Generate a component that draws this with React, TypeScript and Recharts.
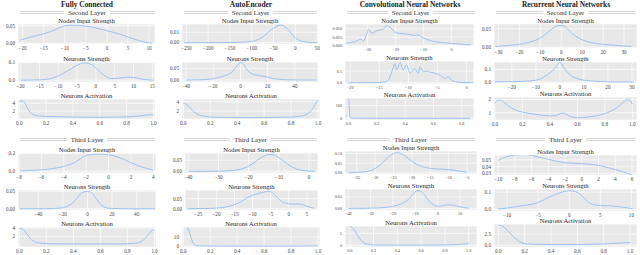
import React from 'react'
import { LineChart, Line, XAxis, YAxis, CartesianGrid } from 'recharts'

type Pt = [number, number]

// ---- Fully Connected
const fc2Nodes: Pt[] = [[-20.6, 0.009], [-18, 0.018], [-15, 0.027], [-13, 0.035], [-11, 0.046], [-9, 0.051], [-7, 0.051], [-5, 0.049], [-3, 0.045], [-1, 0.039], [1, 0.033], [3, 0.026], [5, 0.018], [7, 0.01], [9, 0.003], [10.8, 0.0005]]
const fc2Neurons: Pt[] = [[-20, 0], [-15, 0.002], [-12, 0.009], [-10, 0.024], [-7.5, 0.052], [-5.3, 0.08], [-3, 0.097], [-1.2, 0.088], [0.6, 0.057], [2.4, 0.024], [4.2, 0.009], [6, 0.011], [8.3, 0.017], [10.2, 0.015], [12.5, 0.005], [15.3, 0]]
const fc2Act: Pt[] = [[0, 4.4], [0.02, 4.6], [0.04, 4.1], [0.06, 2.8], [0.08, 1.7], [0.1, 1.1], [0.14, 0.75], [0.2, 0.6], [0.3, 0.5], [0.4, 0.42], [0.5, 0.38], [0.6, 0.37], [0.7, 0.4], [0.8, 0.48], [0.88, 0.65], [0.94, 0.9], [0.97, 1.05], [1.0, 0.95]]
const fc3Nodes: Pt[] = [[-7.9, 0.003], [-7, 0.008], [-6, 0.016], [-5, 0.03], [-4, 0.055], [-3, 0.1], [-2.3, 0.16], [-1.5, 0.188], [-0.8, 0.192], [0, 0.185], [0.8, 0.16], [1.5, 0.125], [2, 0.095], [2.7, 0.06], [3.3, 0.035], [4, 0.012]]
const fc3Neurons: Pt[] = [[-55, 0], [-40, 0], [-30, 0.0005], [-22, 0.002], [-17, 0.006], [-12, 0.017], [-8, 0.032], [-5, 0.045], [-2, 0.049], [1, 0.049], [4, 0.044], [7, 0.03], [10, 0.015], [13, 0.006], [18, 0.001], [30, 0], [55, 0]]
const fc3Act: Pt[] = [[0, 3.9], [0.02, 3.8], [0.05, 2.8], [0.08, 1.5], [0.12, 0.6], [0.17, 0.3], [0.25, 0.2], [0.4, 0.15], [0.6, 0.15], [0.75, 0.18], [0.85, 0.3], [0.9, 0.7], [0.94, 1.8], [0.97, 3.0], [0.99, 3.5], [1.0, 3.4]]

// ---- AutoEncoder
const ae2Nodes: Pt[] = [[-255, 0], [-200, 0], [-150, 0.0001], [-120, 0.0005], [-100, 0.0012], [-85, 0.003], [-70, 0.007], [-55, 0.0125], [-42, 0.016], [-33, 0.017], [-25, 0.0155], [-15, 0.012], [-5, 0.0065], [5, 0.0032], [15, 0.0013], [30, 0.0004], [50, 0]]
const ae2Neurons: Pt[] = [[-40, 0], [-30, 0.001], [-22, 0.004], [-15, 0.012], [-10, 0.022], [-6, 0.035], [-3, 0.058], [-1, 0.071], [0.5, 0.074], [2.5, 0.066], [5, 0.042], [7.5, 0.029], [11, 0.022], [16, 0.017], [20, 0.012], [25, 0.005], [32, 0.0015], [45, 0], [56, 0]]
const ae2Act: Pt[] = [[0, 3.7], [0.02, 3.5], [0.05, 2.7], [0.08, 1.8], [0.11, 1.2], [0.15, 0.9], [0.22, 0.7], [0.35, 0.6], [0.5, 0.57], [0.65, 0.6], [0.78, 0.68], [0.86, 0.85], [0.91, 1.2], [0.94, 1.8], [0.97, 2.9], [0.99, 3.9], [1.0, 4.3]]
const ae3Nodes: Pt[] = [[-40, 0], [-32, 0.0002], [-28, 0.001], [-25, 0.004], [-22.5, 0.01], [-20.5, 0.02], [-18.5, 0.036], [-16.5, 0.056], [-14.5, 0.071], [-13, 0.077], [-11.5, 0.073], [-10, 0.062], [-8.5, 0.048], [-7, 0.032], [-5.5, 0.019], [-4, 0.01], [-2, 0.004], [0, 0.001], [2, 0]]
const ae3Neurons: Pt[] = [[-28, 0], [-24, 0.001], [-20, 0.003], [-17, 0.01], [-15, 0.02], [-13, 0.038], [-11, 0.06], [-9, 0.073], [-7, 0.082], [-5.6, 0.087], [-4.5, 0.08], [-3.3, 0.058], [-2, 0.036], [-0.5, 0.026], [1, 0.023], [2.7, 0.024], [4, 0.019], [5.5, 0.009], [7, 0.002]]
const ae3Act: Pt[] = [[0, 24], [0.02, 23], [0.035, 19], [0.05, 13], [0.065, 6], [0.08, 2], [0.1, 0.6], [0.15, 0.25], [0.3, 0.15], [0.5, 0.12], [0.7, 0.12], [0.85, 0.15], [0.95, 0.3], [1.0, 0.5]]

// ---- Convolutional Neural Networks
const cnn2Nodes: Pt[] = [[-37.5, 0.007], [-35.5, 0.009], [-33.5, 0.015], [-32.5, 0.019], [-31.5, 0.013], [-30.5, 0.03], [-29.7, 0.049], [-28.6, 0.037], [-27, 0.044], [-25.5, 0.047], [-24.2, 0.05], [-23.2, 0.06], [-22, 0.056], [-20.5, 0.042], [-19.2, 0.037], [-17.3, 0.036], [-15, 0.033], [-13.6, 0.03], [-12, 0.032], [-10.5, 0.024], [-8.5, 0.017], [-6.5, 0.012], [-4, 0.009], [-1.5, 0.007], [1.5, 0.005], [4, 0.003], [7, 0.001]]
const cnn2Neurons: Pt[] = [[-20.3, 0], [-17, 0.0005], [-15, 0.002], [-14, 0.006], [-13.5, 0.02], [-13, 0.07], [-12.6, 0.13], [-12.3, 0.165], [-12, 0.11], [-11.4, 0.175], [-10.9, 0.11], [-10.3, 0.15], [-9.7, 0.08], [-9.3, 0.1], [-8.9, 0.123], [-8.3, 0.08], [-8, 0.137], [-7.4, 0.094], [-6.8, 0.1], [-6.3, 0.09], [-5.7, 0.085], [-5.1, 0.075], [-4.6, 0.066], [-4.2, 0.05], [-3.7, 0.037], [-3.1, 0.051], [-2.6, 0.023], [-2, 0.01], [-1, 0.003], [0.5, 0.001], [1.2, 0]]
const cnn2Act: Pt[] = [[0, 155], [0.004, 120], [0.008, 40], [0.012, 10], [0.02, 3], [0.05, 1], [0.2, 0.5], [0.5, 0.3], [0.8, 0.3], [0.86, 0.2]]
const cnn3Nodes: Pt[] = [[-37.3, 0.001], [-35, 0.002], [-33, 0.005], [-31, 0.013], [-29.5, 0.028], [-28, 0.052], [-26.5, 0.08], [-25, 0.1], [-23.8, 0.104], [-22.5, 0.095], [-21, 0.075], [-19.5, 0.053], [-18, 0.038], [-16.5, 0.029], [-15, 0.023], [-13, 0.02], [-11, 0.018], [-9, 0.015], [-7, 0.009], [-5, 0.003]]
const cnn3Neurons: Pt[] = [[-40, 0], [-33, 0.0005], [-27, 0.002], [-22, 0.006], [-18, 0.014], [-15, 0.026], [-12.5, 0.045], [-10.5, 0.068], [-9, 0.078], [-7.5, 0.075], [-6, 0.06], [-4.5, 0.04], [-3, 0.024], [-1.5, 0.014], [0.5, 0.009], [2.5, 0.012], [4.5, 0.016], [6.5, 0.015], [9, 0.009], [11.5, 0.004], [14, 0.001]]
const cnn3Act: Pt[] = [[0, 7.9], [0.02, 7.4], [0.04, 6.2], [0.06, 4.6], [0.08, 3.1], [0.1, 1.8], [0.12, 0.9], [0.15, 0.4], [0.2, 0.15], [0.4, 0.1], [0.6, 0.1], [0.8, 0.15], [0.9, 0.3], [0.95, 0.5], [1.0, 0.7]]

// ---- Recurrent Neural Networks
const rnn2Nodes: Pt[] = [[-31.5, 0.002], [-25, 0.005], [-20, 0.008], [-15, 0.014], [-11, 0.022], [-8, 0.033], [-5.5, 0.045], [-3, 0.055], [-1, 0.059], [1, 0.058], [3, 0.05], [5, 0.038], [7.5, 0.028], [10, 0.02], [14, 0.013], [20, 0.008], [26, 0.005], [33.5, 0.002]]
const rnn2Neurons: Pt[] = [[-27, 0.001], [-20, 0.003], [-14, 0.006], [-10, 0.014], [-7, 0.035], [-5, 0.06], [-3, 0.09], [-1.5, 0.125], [-0.5, 0.15], [0, 0.158], [0.6, 0.148], [1.5, 0.12], [3, 0.082], [4.5, 0.053], [6.5, 0.032], [9, 0.018], [12, 0.01], [17, 0.004], [24, 0.001], [31, 0]]
const rnn2Act: Pt[] = [[0, 1.7], [0.02, 1.95], [0.04, 1.95], [0.07, 1.75], [0.1, 1.5], [0.14, 1.25], [0.2, 1.05], [0.27, 0.92], [0.33, 0.83], [0.4, 0.76], [0.44, 0.78], [0.47, 0.9], [0.49, 0.97], [0.52, 0.88], [0.55, 0.7], [0.6, 0.62], [0.68, 0.68], [0.76, 0.82], [0.83, 1.05], [0.89, 1.4], [0.93, 1.75], [0.96, 1.98], [0.98, 1.95], [1.0, 1.65]]
const rnn3Nodes: Pt[] = [[-10, 0.0495], [-9, 0.055], [-8, 0.0575], [-7, 0.058], [-6, 0.057], [-5, 0.054], [-4, 0.051], [-3, 0.048], [-2, 0.046], [-1, 0.045], [0, 0.0445], [1, 0.0435], [2, 0.042], [3, 0.039], [4, 0.0355], [5, 0.032], [6, 0.0275]]
const rnn3Neurons: Pt[] = [[-11.4, 0.002], [-10, 0.008], [-9, 0.014], [-8, 0.019], [-7, 0.024], [-6, 0.03], [-5, 0.04], [-4, 0.057], [-3, 0.075], [-2, 0.09], [-1, 0.102], [0, 0.108], [1, 0.103], [2, 0.08], [3, 0.045], [4, 0.027], [5, 0.023], [6.5, 0.021], [8, 0.016], [9, 0.011], [10.2, 0.004]]
const rnn3Act: Pt[] = [[0, 4.5], [0.03, 4.3], [0.06, 3.6], [0.09, 2.7], [0.12, 1.8], [0.15, 1.0], [0.18, 0.55], [0.22, 0.3], [0.3, 0.2], [0.45, 0.15], [0.6, 0.17], [0.75, 0.25], [0.85, 0.35], [0.93, 0.5], [1.0, 0.6]]

// ---- tick values
const actX = [0, 0.2, 0.4, 0.6, 0.8, 1.0]
const fc2NodesX = [-20, -15, -10, -5, 0, 5, 10]
const fc2NeuronsX = [-20, -15, -10, -5, 0, 5, 10, 15]
const fc3NodesX = [-8, -6, -4, -2, 0, 2, 4]
const fc3NeuronsX = [-40, -20, 0, 20, 40]
const ae2NodesX = [-250, -200, -150, -100, -50, 0, 50]
const ae2NeuronsX = [-40, -20, 0, 20, 40]
const ae3NodesX = [-40, -30, -20, -10, 0]
const ae3NeuronsX = [-25, -20, -15, -10, -5, 0, 5]
const cnn2NodesX = [-30, -20, -10, 0]
const cnn2NeuronsX = [-20, -15, -10, -5, 0]
const cnn2ActX = [0, 0.2, 0.4, 0.6, 0.8]
const cnn3NodesX = [-35, -30, -25, -20, -15, -10, -5]
const cnn3NeuronsX = [-40, -30, -20, -10, 0, 10]
const rnn2NodesX = [-30, -20, -10, 0, 10, 20, 30]
const rnn2NeuronsX = [-20, -10, 0, 10, 20, 30]
const rnn3NodesX = [-10, -8, -6, -4, -2, 0, 2, 4, 6]
const rnn3NeuronsX = [-10, -5, 0, 5, 10]

const models = ['Fully Connected', 'AutoEncoder', 'Convolutional Neural Networks', 'Recurrent Neural Networks']
const layers = ['Second Layer', 'Third Layer']
const subTitles = ['Nodes Input Strength', 'Neurons Strength', 'Neurons Activation']

const FONT = '"Liberation Serif", "Times New Roman", serif'
const BG = '#e8e8e8'
const LINE = '#9cc3ef'

type PanelDef = {
  t: number
  data: Pt[]
  xt: number[]
  xd: [number, number]
  xDec: number
  yt: number[]
  yd: [number, number]
  yDec: number
  box: [number, number, number, number]
  fs?: number
}

const panels: PanelDef[] = [
  // Fully Connected
  { t: 0, data: fc2Nodes, xt: fc2NodesX, xd: [-21.1, 11.4], xDec: 0, yt: [0, 0.05], yd: [-0.002, 0.055], yDec: 2, box: [18, 24, 137, 20] },
  { t: 1, data: fc2Neurons, xt: fc2NeuronsX, xd: [-20.7, 15.7], xDec: 0, yt: [0, 0.1], yd: [-0.01, 0.102], yDec: 1, box: [18, 62, 137, 20] },
  { t: 2, data: fc2Act, xt: actX, xd: [-0.01, 1.012], xDec: 1, yt: [2, 4], yd: [-0.08, 5.1], yDec: 0, box: [18, 99, 137, 20] },
  { t: 0, data: fc3Nodes, xt: fc3NodesX, xd: [-8.09, 4.24], xDec: 0, yt: [0, 0.2], yd: [-0.02, 0.205], yDec: 1, box: [18, 153, 138, 20] },
  { t: 1, data: fc3Neurons, xt: fc3NeuronsX, xd: [-56.5, 55.7], xDec: 0, yt: [0, 0.05], yd: [-0.0037, 0.0537], yDec: 2, box: [18, 190, 138, 20] },
  { t: 2, data: fc3Act, xt: actX, xd: [-0.01, 1.012], xDec: 1, yt: [2, 4], yd: [-0.58, 4.24], yDec: 0, box: [18, 227, 138, 20] },
  // AutoEncoder
  { t: 0, data: ae2Nodes, xt: ae2NodesX, xd: [-260, 52], xDec: 0, yt: [0, 0.01], yd: [-0.0013, 0.018], yDec: 2, box: [182, 24, 136, 20] },
  { t: 1, data: ae2Neurons, xt: ae2NeuronsX, xd: [-43, 57], xDec: 0, yt: [0, 0.05], yd: [-0.0085, 0.077], yDec: 2, box: [182, 62, 136, 20] },
  { t: 2, data: ae2Act, xt: actX, xd: [-0.01, 1.015], xDec: 1, yt: [2, 4], yd: [0.28, 4.58], yDec: 0, box: [182, 99, 138, 20] },
  { t: 0, data: ae3Nodes, xt: ae3NodesX, xd: [-41.1, 3], xDec: 0, yt: [0, 0.05], yd: [-0.0077, 0.083], yDec: 2, box: [185, 153, 133, 20] },
  { t: 1, data: ae3Neurons, xt: ae3NeuronsX, xd: [-28.7, 8.1], xDec: 0, yt: [0, 0.05], yd: [-0.0065, 0.0935], yDec: 2, box: [185, 190, 133, 20] },
  { t: 2, data: ae3Act, xt: actX, xd: [-0.01, 1.015], xDec: 1, yt: [0, 10], yd: [-0.8, 20.7], yDec: 0, box: [182, 227, 138, 20] },
  // CNN
  { t: 0, data: cnn2Nodes, xt: cnn2NodesX, xd: [-38.1, 8], xDec: 0, yt: [0, 0.025, 0.05], yd: [-0.002, 0.065], yDec: 3, box: [345, 24, 129, 22], fs: 4.2 },
  { t: 1, data: cnn2Neurons, xt: cnn2NeuronsX, xd: [-20.9, 1.3], xDec: 0, yt: [0, 0.1], yd: [-0.011, 0.186], yDec: 1, box: [345, 61, 129, 23], fs: 4.2 },
  { t: 2, data: cnn2Act, xt: cnn2ActX, xd: [-0.024, 0.887], xDec: 1, yt: [0, 100], yd: [-13, 159], yDec: 0, box: [345, 98, 129, 22], fs: 4.2 },
  { t: 0, data: cnn3Nodes, xt: cnn3NodesX, xd: [-38.2, -2.3], xDec: 0, yt: [0, 0.05, 0.1], yd: [-0.006, 0.113], yDec: 2, box: [345, 151, 132, 23], fs: 4.2 },
  { t: 1, data: cnn3Neurons, xt: cnn3NeuronsX, xd: [-41.5, 17.6], xDec: 0, yt: [0, 0.05], yd: [-0.007, 0.085], yDec: 2, box: [345, 189, 132, 21], fs: 4.2 },
  { t: 2, data: cnn3Act, xt: actX, xd: [-0.04, 1.07], xDec: 1, yt: [0, 5], yd: [-0.7, 8.0], yDec: 0, box: [345, 226, 132, 21], fs: 4.2 },
  // RNN
  { t: 0, data: rnn2Nodes, xt: rnn2NodesX, xd: [-32.1, 36.2], xDec: 0, yt: [0, 0.05], yd: [-0.002, 0.063], yDec: 2, box: [494, 24, 143, 24] },
  { t: 1, data: rnn2Neurons, xt: rnn2NeuronsX, xd: [-27.4, 32.1], xDec: 0, yt: [0, 0.1], yd: [-0.008, 0.159], yDec: 1, box: [494, 62, 143, 21] },
  { t: 2, data: rnn2Act, xt: actX, xd: [-0.007, 1.034], xDec: 1, yt: [1, 2], yd: [0.45, 2.19], yDec: 0, box: [494, 97, 143, 23] },
  { t: 0, data: rnn3Nodes, xt: rnn3NodesX, xd: [-10.5, 6.6], xDec: 0, yt: [0.03, 0.04, 0.05], yd: [0.0275, 0.0575], yDec: 2, box: [494, 155, 143, 20] },
  { t: 1, data: rnn3Neurons, xt: rnn3NeuronsX, xd: [-12.1, 10.9], xDec: 0, yt: [0, 0.1], yd: [-0.009, 0.118], yDec: 1, box: [494, 189, 143, 22] },
  { t: 2, data: rnn3Act, xt: actX, xd: [-0.033, 1.053], xDec: 1, yt: [0, 2.5], yd: [-0.39, 4.77], yDec: 1, box: [494, 224, 143, 23] },
]

const columns = [
  { cx: 87, l: 18, r: 156 },
  { cx: 251, l: 182, r: 319 },
  { cx: 410, l: 345, r: 476 },
  { cx: 566, l: 494, r: 637 },
]

const layerTops = [12, 139]

function fmt(v: number, dec: number) {
  const s = Math.abs(v).toFixed(dec)
  return v < 0 ? '\u2212' + s : s
}

function Panel({ p }: { p: PanelDef }) {
  const [left, top, w, h] = p.box
  const YW = 26, XH = 9, RM = 8, MT = 4
  const fs = p.fs ?? 5.2
  const data = p.data.map(([x, y]) => ({ x, y }))
  const tick = { fontSize: fs, fill: '#444', fontFamily: FONT }
  return (
    <>
      <div style={{
        position: 'absolute', left, top: top - 8.5, width: w, textAlign: 'center',
        fontSize: 6.6, lineHeight: '9px', fontFamily: FONT, color: '#222', whiteSpace: 'nowrap',
      }}>{subTitles[p.t]}</div>
      <div style={{ position: 'absolute', left: left - YW, top: top - MT }}>
        <LineChart width={w + YW + RM} height={h + XH + MT} data={data} margin={{ top: MT, right: RM, bottom: 0, left: 0 }}>
          <CartesianGrid fill={BG} fillOpacity={1} stroke="#fff" strokeWidth={0.7} />
          <XAxis dataKey="x" type="number" domain={p.xd} ticks={p.xt} interval={0} allowDataOverflow
            tickFormatter={(v: number) => fmt(v, p.xDec)} tick={tick} tickLine={false} axisLine={false}
            tickSize={1} tickMargin={1} height={XH} />
          <YAxis type="number" domain={p.yd} ticks={p.yt} interval={0} allowDataOverflow
            tickFormatter={(v: number) => fmt(v, p.yDec)} tick={tick} tickLine={false} axisLine={false}
            tickSize={2} tickMargin={1} width={YW} />
          <Line dataKey="y" type="monotone" stroke={LINE} strokeWidth={1} dot={false} isAnimationActive={false} />
        </LineChart>
      </div>
    </>
  )
}

function LayerHeading({ l, r, top, text }: { l: number; r: number; top: number; text: string }) {
  const rule = { flex: 1, height: 1, borderTop: '1px solid #d4d4d4', borderBottom: '1px solid #d4d4d4' }
  return (
    <div style={{
      position: 'absolute', left: l + 2, width: r - l - 4, top: top - 5, height: 10,
      display: 'flex', alignItems: 'center',
    }}>
      <div style={rule} />
      <span style={{ fontSize: 6.8, fontFamily: FONT, color: '#333', margin: '0 4px', whiteSpace: 'nowrap' }}>{text}</span>
      <div style={rule} />
    </div>
  )
}

export default function App() {
  return (
    <div style={{ position: 'absolute', left: 0, top: 0, width: 640, height: 255, background: '#fff', overflow: 'hidden' }}>
      {columns.map((c, i) => (
        <div key={models[i]} style={{
          position: 'absolute', left: c.cx - 80, width: 160, top: 0, textAlign: 'center',
          fontSize: 7.4, fontWeight: 'bold', fontFamily: FONT, color: '#222', lineHeight: '9px',
        }}>{models[i]}</div>
      ))}
      {columns.map((c, i) => layers.map((name, j) => (
        <LayerHeading key={i + '-' + j} l={c.l} r={c.r} top={layerTops[j]} text={name} />
      )))}
      {panels.map((p, i) => <Panel key={i} p={p} />)}
    </div>
  )
}
